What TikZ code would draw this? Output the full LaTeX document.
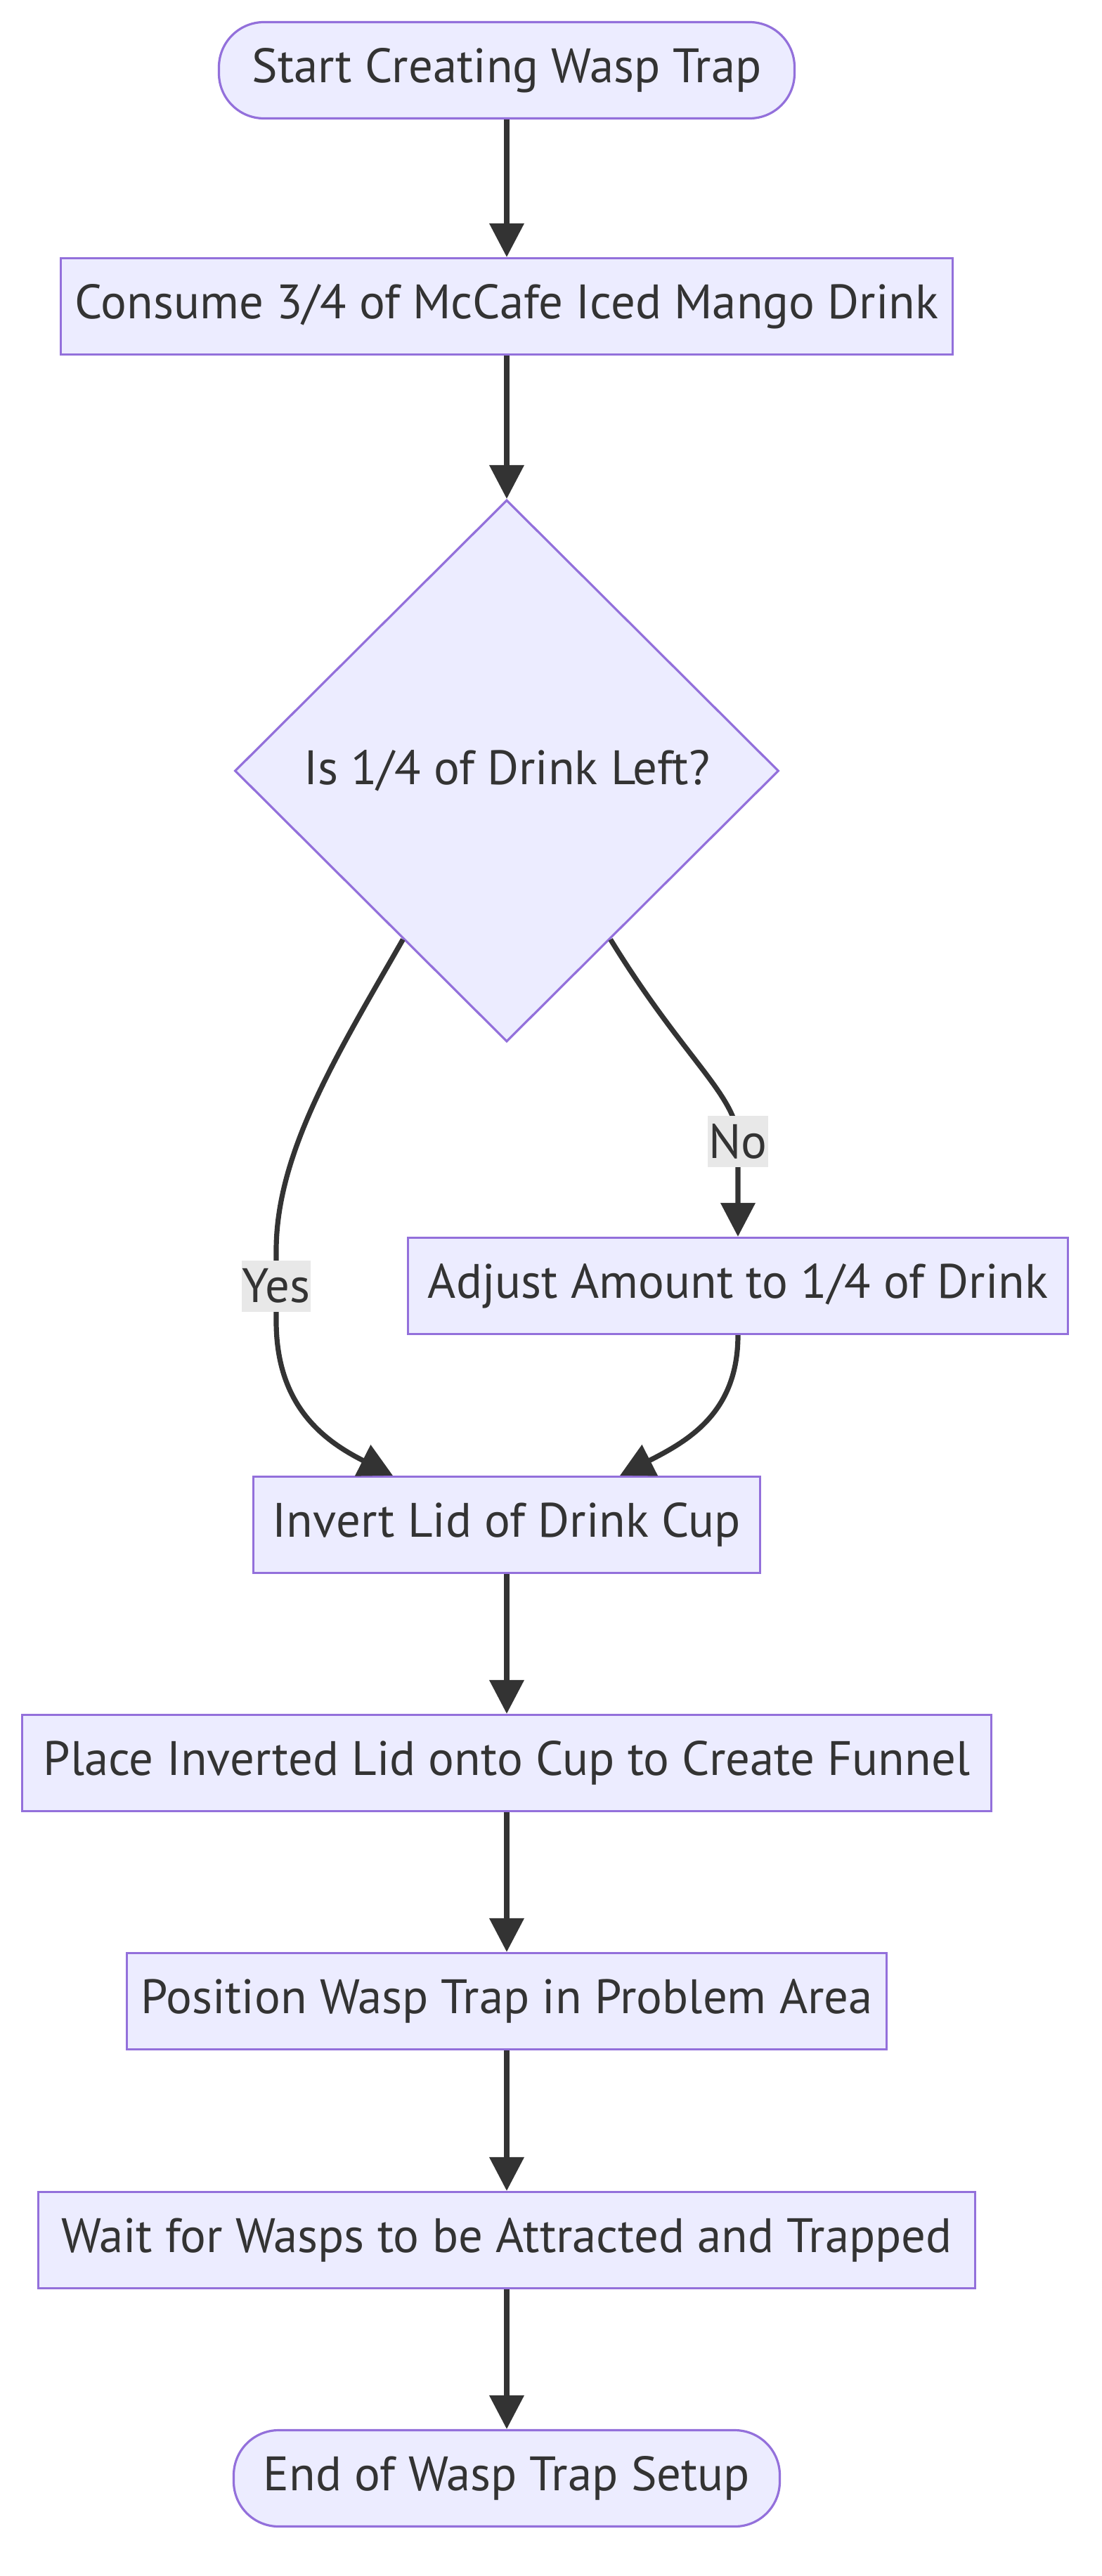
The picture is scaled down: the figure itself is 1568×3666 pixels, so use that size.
\documentclass[tikz,border=0pt]{standalone}
\usepackage{fontspec}
\setmainfont{PT Sans}
\usetikzlibrary{shapes.geometric,arrows.meta,calc}
\definecolor{nodefill}{HTML}{ECECFF}
\definecolor{nodeline}{HTML}{9370DB}
\definecolor{ink}{HTML}{333333}
\definecolor{labelbg}{HTML}{E8E8E8}

\begin{document}
\begin{tikzpicture}[x=0.5pt,y=-0.5pt,
  txt/.style={text=ink, font=\fontsize{34.4pt}{41pt}\selectfont},
  base/.style={txt, draw=nodeline, fill=nodefill, line width=1.6pt, inner sep=0pt},
  stepbox/.style={base, rectangle, minimum height=68.5pt},
  terminal/.style={base, rectangle, rounded corners=32pt, minimum height=68.5pt},
  decision/.style={base, diamond, aspect=1, minimum width=387pt, minimum height=385.5pt},
  flow/.style={draw=ink, line width=3.6pt, -{Triangle[length=24pt,width=24pt]}},
  edgelabel/.style={txt, fill=labelbg, inner xsep=0.5pt, inner ysep=0pt, minimum height=36.5pt}
]
\useasboundingbox (0,0) rectangle (1568,3666);

% process nodes
\node[terminal, minimum width=409.5pt] (start) at (721,100) {Start Creating Wasp Trap};
\node[stepbox, minimum width=634.5pt] (consume) at (721,436) {Consume 3/4 of McCafe Iced Mango Drink};
\node[decision] (check) at (721,1097) {Is 1/4 of Drink Left?};
\node[stepbox, minimum width=469.5pt] (adjust) at (1050,1830) {Adjust Amount to 1/4 of Drink};
\node[stepbox, minimum width=360.5pt] (invert) at (721,2170) {Invert Lid of Drink Cup};
\node[stepbox, minimum width=689.5pt] (place) at (721,2509) {Place Inverted Lid onto Cup to Create Funnel};
\node[stepbox, minimum width=540.5pt] (position) at (721,2848) {Position Wasp Trap in Problem Area};
\node[stepbox, minimum width=666.5pt] (wait) at (721,3188) {Wait for Wasps to be Attracted and Trapped};
\node[terminal, minimum width=388.5pt] (finish) at (721,3527) {End of Wasp Trap Setup};

% attachment points of the curved branches
\coordinate (yesout) at ($(check.west)!0.62!(check.south)$);
\coordinate (noout) at ($(check.east)!0.62!(check.south)$);
\coordinate (yesin) at ($(invert.north)+(-162,0)$);
\coordinate (adjin) at ($(invert.north)+(161,0)$);

% connectors
\draw[flow] (start.south) -- (consume.north);
\draw[flow] (consume.south) -- (check.north);
\draw[flow] (yesout) .. controls (480,1500) and (393,1640) .. (393,1780)
  -- node[edgelabel] {Yes} (393,1880)
  .. controls (393,2000) and (460,2050) .. (yesin);
\draw[flow] (noout) .. controls (975,1510) and (1050,1560) .. (1050,1624)
  node[edgelabel] {No} -- (adjust.north);
\draw[flow] (adjust.south) .. controls (1050,2010) and (980,2050) .. (adjin);
\draw[flow] (invert.south) -- (place.north);
\draw[flow] (place.south) -- (position.north);
\draw[flow] (position.south) -- (wait.north);
\draw[flow] (wait.south) -- (finish.north);
\end{tikzpicture}
\end{document}
